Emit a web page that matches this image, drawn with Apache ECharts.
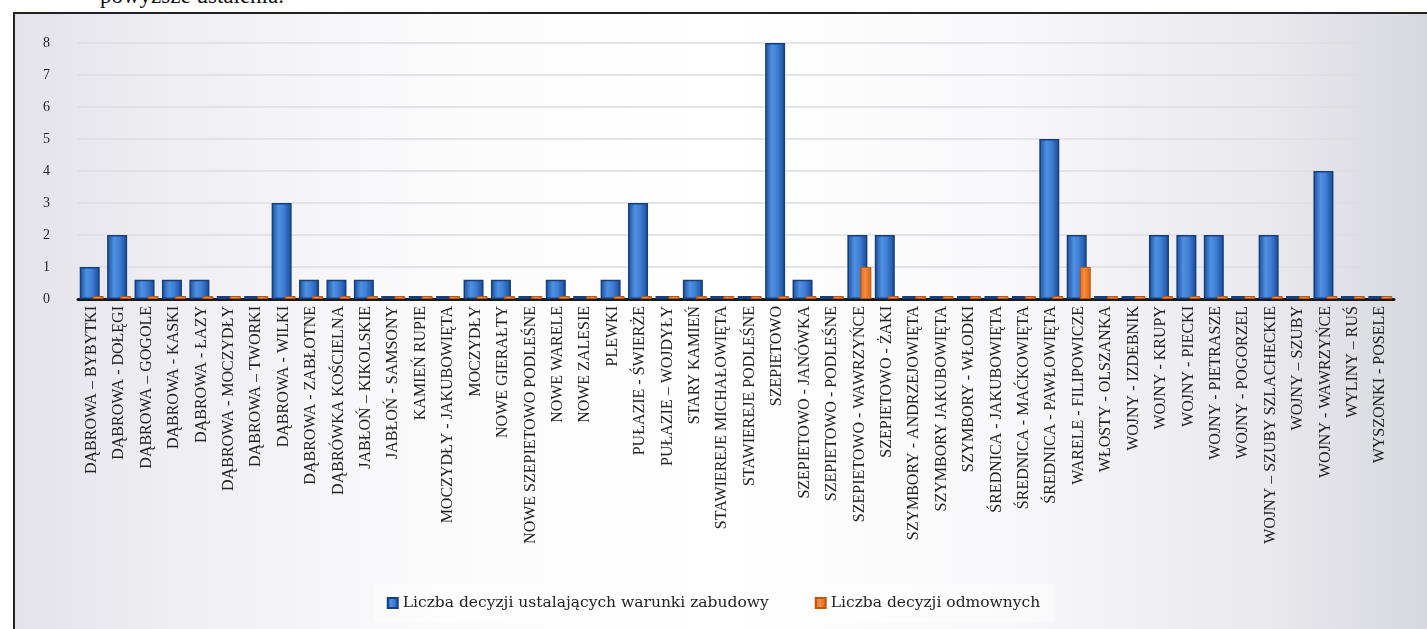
<!DOCTYPE html>
<html>
<head>
<meta charset="utf-8">
<script src="https://cdn.jsdelivr.net/npm/echarts@6/dist/echarts.min.js"></script>
<style>
html,body{margin:0;padding:0;width:1427px;height:629px;overflow:hidden;background:#fff;}
#top{position:absolute;left:100px;top:-17px;font-family:"Liberation Serif",serif;font-size:23px;color:#111;white-space:nowrap;}
#frame{position:absolute;left:13px;top:12px;width:1420px;height:625px;border-left:2px solid #222;border-top:2px solid #222;
background:linear-gradient(90deg,#e4e2ea 0%,#eeedf2 10%,#fbfbfc 30%,#ffffff 50%,#f8f8fa 70%,#e9e9ee 88%,#d6d6de 100%);}
#chart{position:absolute;left:0;top:0;width:1427px;height:629px;}
</style>
</head>
<body>
<div id="top">powyższe ustalenia.</div>
<div id="frame"></div>
<div id="chart"></div>
<script>
const categories = [
"DĄBROWA – BYBYTKI","DĄBROWA - DOŁĘGI","DĄBROWA – GOGOLE","DĄBROWA - KASKI","DĄBROWA - ŁAZY",
"DĄBROWA - MOCZYDŁY","DĄBROWA – TWORKI","DĄBROWA - WILKI","DĄBROWA - ZABŁOTNE","DĄBRÓWKA KOŚCIELNA",
"JABŁOŃ – KIKOLSKIE","JABŁOŃ - SAMSONY","KAMIEŃ RUPIE","MOCZYDŁY - JAKUBOWIĘTA","MOCZYDŁY",
"NOWE GIERAŁTY","NOWE SZEPIETOWO PODLEŚNE","NOWE WARELE","NOWE ZALESIE","PLEWKI",
"PUŁAZIE - ŚWIERŻE","PUŁAZIE – WOJDYŁY","STARY KAMIEŃ","STAWIEREJE MICHAŁOWIĘTA","STAWIEREJE PODLEŚNE",
"SZEPIETOWO","SZEPIETOWO - JANÓWKA","SZEPIETOWO - PODLEŚNE","SZEPIETOWO - WAWRZYŃCE","SZEPIETOWO - ŻAKI",
"SZYMBORY - ANDRZEJOWIĘTA","SZYMBORY JAKUBOWIĘTA","SZYMBORY - WŁODKI","ŚREDNICA - JAKUBOWIĘTA","ŚREDNICA - MAĆKOWIĘTA",
"ŚREDNICA - PAWŁOWIĘTA","WARELE - FILIPOWICZE","WŁOSTY - OLSZANKA","WOJNY - IZDEBNIK","WOJNY - KRUPY",
"WOJNY - PIECKI","WOJNY - PIETRASZE","WOJNY - POGORZEL","WOJNY – SZUBY SZLACHECKIE","WOJNY – SZUBY",
"WOJNY - WAWRZYŃCE","WYLINY – RUŚ","WYSZONKI - POSELE"
];
const decyzjeUstalajace = [
1,2,0.6,0.6,0.6, 0,0,3,0.6,0.6,
0.6,0,0,0,0.6, 0.6,0,0.6,0,0.6,
3,0,0.6,0,0, 8,0.6,0,2,2,
0,0,0,0,0, 5,2,0,0,2,
2,2,0,2,0, 4,0,0
];
const decyzjeOdmowne = [
0,0,0,0,0, 0,0,0,0,0,
0,0,0,0,0, 0,0,0,0,0,
0,0,0,0,0, 0,0,0,1,0,
0,0,0,0,0, 0,1,0,0,0,
0,0,0,0,0, 0,0,0
];
const yTicks = [0,1,2,3,4,5,6,7,8];
const seriesNames = ["Liczba decyzji ustalających warunki zabudowy","Liczba decyzji odmownych"];

const font = '"Liberation Serif", "Times New Roman", serif';
const wideFont = '"DejaVu Serif", serif';
const chart = echarts.init(document.getElementById('chart'));
const blueGrad = new echarts.graphic.LinearGradient(0,0,1,0,[
  {offset:0,color:'#1b4f9c'},{offset:0.35,color:'#4f90e2'},{offset:0.6,color:'#3f80d6'},{offset:1,color:'#1a4a94'}]);
const orangeGrad = new echarts.graphic.LinearGradient(0,0,1,0,[
  {offset:0,color:'#d9661e'},{offset:0.4,color:'#f7903e'},{offset:1,color:'#d65f18'}]);
chart.setOption({
  backgroundColor:'transparent',
  animation:false,
  grid:{left:78,right:33,top:43,bottom:330,containLabel:false},
  legend:{
    bottom:7,left:'center',
    data:seriesNames,
    itemWidth:10,itemHeight:10,itemGap:46,
    backgroundColor:'rgba(255,255,255,0.45)',
    padding:[11,14],
    textStyle:{fontFamily:wideFont,fontSize:15.5,color:'#222'},
    icon:'rect'
  },
  xAxis:{
    type:'category',
    data:categories,
    axisLine:{lineStyle:{color:'#1a1a1a',width:3}},
    axisTick:{show:false},
    axisLabel:{rotate:90,interval:0,margin:7,fontFamily:font,fontSize:16,color:'#222'}
  },
  yAxis:{
    type:'value',min:0,max:8,interval:1,
    axisLine:{show:false},axisTick:{show:false},
    splitLine:{lineStyle:{color:'#dcdce2',width:1.5}},
    axisLabel:{margin:28,fontFamily:font,fontSize:14,color:'#222',
      formatter:v=>yTicks.includes(v)?String(v):''}
  },
  series:[
    {name:seriesNames[0],type:'bar',data:decyzjeUstalajace,barWidth:20,barGap:'-35%',barMinHeight:3,
     itemStyle:{color:blueGrad,borderColor:'#163f80',borderWidth:1.5}},
    {name:seriesNames[1],type:'bar',data:decyzjeOdmowne,barWidth:11,barMinHeight:3,
     itemStyle:{color:orangeGrad,borderColor:'#c0560f',borderWidth:1}}
  ]
});
</script>
</body>
</html>
